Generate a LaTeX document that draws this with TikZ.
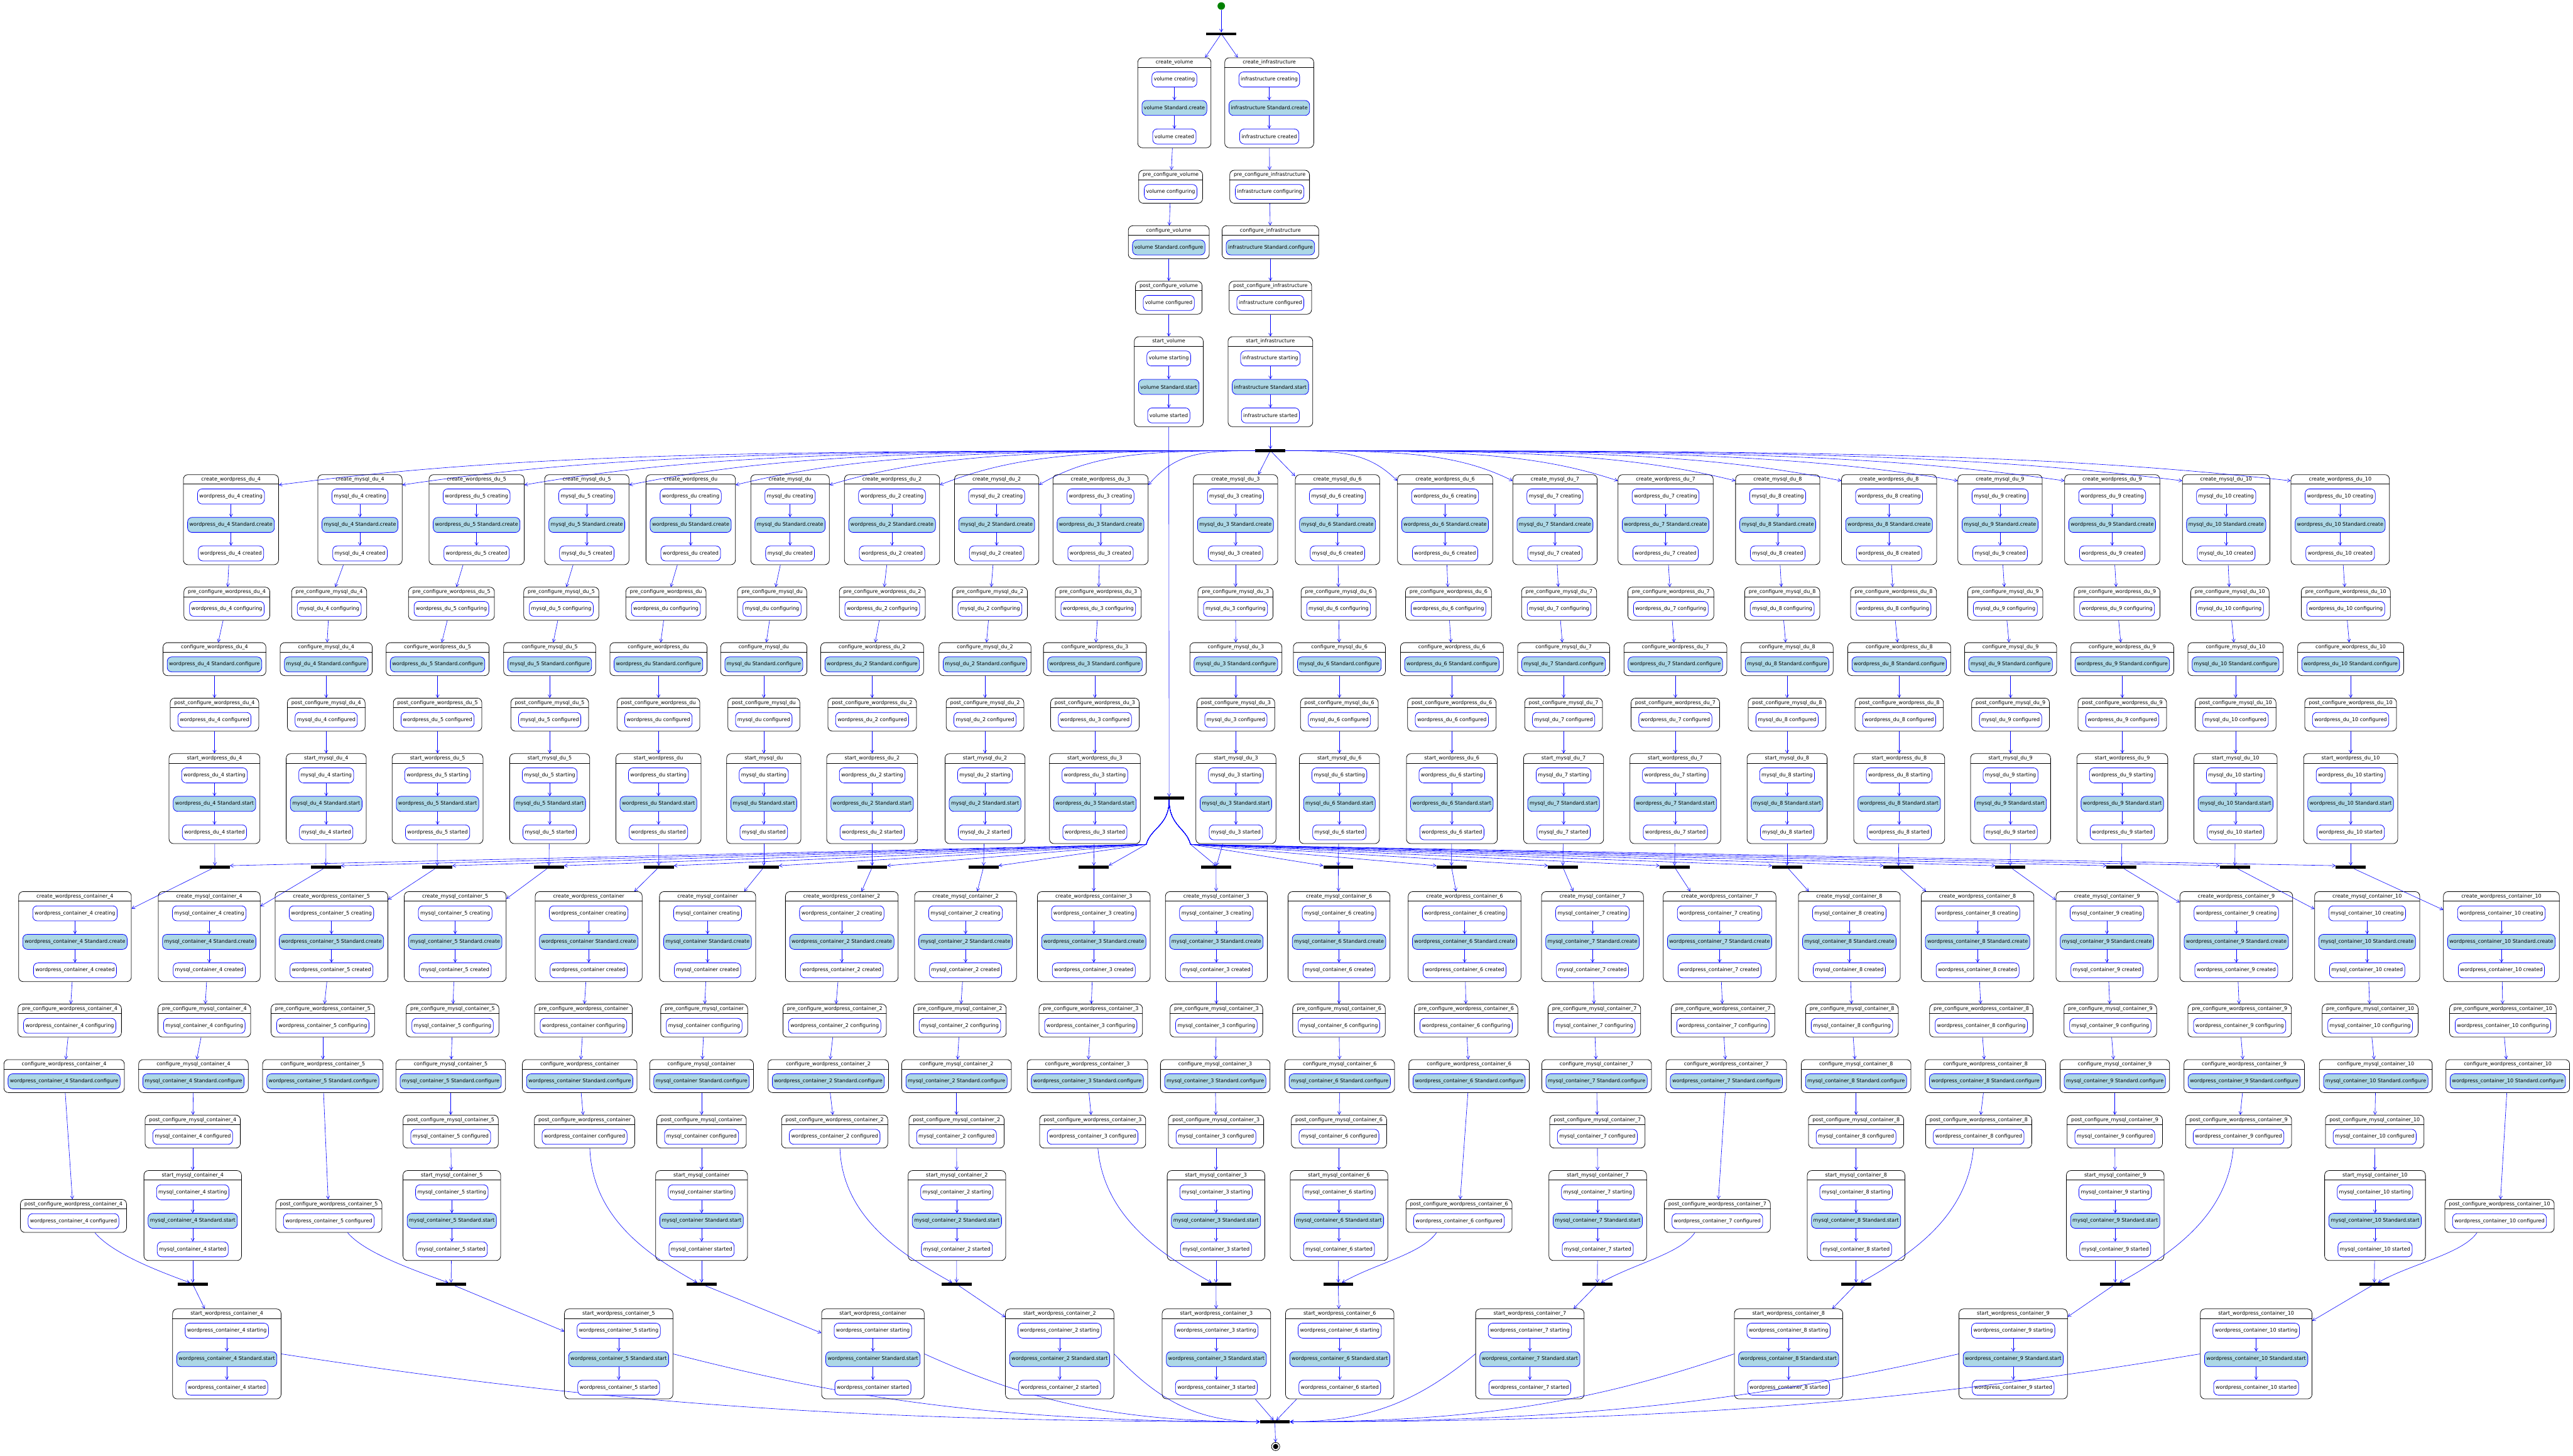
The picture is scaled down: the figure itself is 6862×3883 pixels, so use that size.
\documentclass[tikz,border=0pt]{standalone}
\usepackage{fontspec}
\setmainfont{DejaVu Sans}
\usetikzlibrary{arrows.meta,fit,calc}
\definecolor{pblue}{RGB}{0,0,255}
\definecolor{lblue}{RGB}{173,216,230}
\definecolor{pgreen}{RGB}{0,128,0}
\newcommand\myfs{\fontsize{13.5}{16}\selectfont}
\tikzset{
  ttl/.style={inner sep=0pt, font=\myfs},
  st/.style={draw=pblue, line width=1.3pt, rounded corners=12pt, fill=white, minimum height=40pt, inner xsep=5pt, inner ysep=0pt, font=\myfs},
  stf/.style={st, fill=lblue},
  clu/.style={draw=black, line width=1.3pt, rounded corners=12pt, inner xsep=10.5pt, inner ysep=0pt},
  hdr/.style={draw=black, line width=1.3pt},
  arr/.style={draw=pblue, line width=1pt, -{Straight Barb[length=8pt,width=9pt]}},
  bar/.style={fill=black, inner sep=0pt, minimum width=80pt, minimum height=8pt},
}
\newcommand\ClThree[7]{%
  \node[ttl] (#1-t) at (#2,{-(#3+13)}) {#4};
  \node[st] (#1-a) at (#2,{-(#3+58)}) {#5};
  \node[stf] (#1-b) at (#2,{-(#3+134)}) {#6};
  \node[st] (#1-c) at (#2,{-(#3+210)}) {#7};
  \coordinate (#1-u) at (#2,{-(#3)});
  \coordinate (#1-d) at (#2,{-(#3+240)});
  \node[clu, fit=(#1-u)(#1-d)(#1-t)(#1-a)(#1-b)(#1-c)] (#1) {};
  \draw[hdr] ([yshift=-26pt]#1.north west) -- ([yshift=-26pt]#1.north east);
  \draw[arr] (#1-a) -- (#1-b);
  \draw[arr] (#1-b) -- (#1-c);
}
\newcommand\ClOne[6]{%
  \node[ttl] (#1-t) at (#2,{-(#3+13)}) {#4};
  \node[#6] (#1-a) at (#2,{-(#3+58)}) {#5};
  \coordinate (#1-u) at (#2,{-(#3)});
  \coordinate (#1-d) at (#2,{-(#3+88)});
  \node[clu, fit=(#1-u)(#1-d)(#1-t)(#1-a)] (#1) {};
  \draw[hdr] ([yshift=-26pt]#1.north west) -- ([yshift=-26pt]#1.north east);
}
\begin{document}
\begin{tikzpicture}[x=1pt,y=1pt]
\fill[white] (0,0) rectangle (6862,-3883);
\useasboundingbox (0,0) rectangle (6862,-3883);
% ---------- top column ----------
\node[circle, fill=pgreen, minimum size=20pt, inner sep=0pt] (init) at (3257,-16) {};
\node[bar, minimum height=7pt] (tb) at (3257,-90) {};
\draw[arr] (init) -- (tb);
\ClThree{cv}{3132}{154}{create\_volume}{volume creating}{volume Standard.create}{volume created}
\ClThree{ci}{3385}{154}{create\_infrastructure}{infrastructure creating}{infrastructure Standard.create}{infrastructure created}
\draw[arr] (tb) -- (cv);
\draw[arr] (tb) -- (ci);
\ClOne{pv}{3122}{454}{pre\_configure\_volume}{volume configuring}{st}
\ClOne{pi}{3386}{454}{pre\_configure\_infrastructure}{infrastructure configuring}{st}
\ClOne{kv}{3117}{602}{configure\_volume}{volume Standard.configure}{stf}
\ClOne{ki}{3388}{602}{configure\_infrastructure}{infrastructure Standard.configure}{stf}
\ClOne{qv}{3117}{750}{post\_configure\_volume}{volume configured}{st}
\ClOne{qi}{3388}{750}{post\_configure\_infrastructure}{infrastructure configured}{st}
\ClThree{sv}{3117}{898}{start\_volume}{volume starting}{volume Standard.start}{volume started}
\ClThree{si}{3388}{898}{start\_infrastructure}{infrastructure starting}{infrastructure Standard.start}{infrastructure started}
\draw[arr] (cv) -- (pv);
\draw[arr] (pv) -- (kv);
\draw[arr] (kv) -- (qv);
\draw[arr] (qv) -- (sv);
\draw[arr] (ci) -- (pi);
\draw[arr] (pi) -- (ki);
\draw[arr] (ki) -- (qi);
\draw[arr] (qi) -- (si);
\node[bar] (ib) at (3388,-1202) {};
\node[bar] (vb) at (3118,-2129) {};
\coordinate (vl) at (3057,-2252);
\coordinate (vr) at (3175,-2252);
\draw[arr] (si) -- (ib);
\draw[arr] (sv) -- (vb);
% ---------- deployment units ----------
\foreach \o/\xc/\xp/\xr/\xb [count=\i] in {%
wordpress\_du\_4/616/605/572/573,%
mysql\_du\_4/960/878/870/869,%
wordpress\_du\_5/1271/1204/1167/1166,%
mysql\_du\_5/1565/1497/1466/1464,%
wordpress\_du/1842/1776/1756/1757,%
mysql\_du/2107/2059/2037/2037,%
wordpress\_du\_2/2379/2353/2326/2326,%
mysql\_du\_2/2658/2640/2627/2623,%
wordpress\_du\_3/2935/2929/2920/2917,%
mysql\_du\_3/3295/3295/3296/3243,%
mysql\_du\_6/3567/3570/3572/3569,%
wordpress\_du\_6/3854/3863/3872/3871,%
mysql\_du\_7/4147/4158/4170/4168,%
wordpress\_du\_7/4442/4456/4468/4466,%
mysql\_du\_8/4741/4753/4766/4766,%
wordpress\_du\_8/5038/5050/5065/5063,%
mysql\_du\_9/5334/5348/5362/5361,%
wordpress\_du\_9/5633/5646/5660/5658,%
mysql\_du\_10/5937/5947/5962/5960,%
wordpress\_du\_10/6241/6256/6269/6269}{%
  \ClThree{dc\i}{\xc}{1266}{create\_\o}{\o{} creating}{\o{} Standard.create}{\o{} created}
  \ClOne{dp\i}{\xp}{1566}{pre\_configure\_\o}{\o{} configuring}{st}
  \ClOne{dk\i}{\xr}{1714}{configure\_\o}{\o{} Standard.configure}{stf}
  \ClOne{dq\i}{\xr}{1862}{post\_configure\_\o}{\o{} configured}{st}
  \ClThree{ds\i}{\xr}{2010}{start\_\o}{\o{} starting}{\o{} Standard.start}{\o{} started}
  \node[bar] (db\i) at (\xb,-2313) {};
  \draw[arr] (dc\i) -- (dp\i);
  \draw[arr] (dp\i) -- (dk\i);
  \draw[arr] (dk\i) -- (dq\i);
  \draw[arr] (dq\i) -- (ds\i);
  \draw[arr] (ds\i) -- (db\i);
  \ifnum\i<10
    \pgfmathsetmacro\dx{3348-\xc-120}
    \draw[arr] (ib.west) .. controls +({-0.5*\dx},0) and +({0.25*\dx},85) .. ([yshift=-28pt]dc\i.north east);
  \else\ifnum\i>11
    \pgfmathsetmacro\dx{\xc-120-3428}
    \draw[arr] (ib.east) .. controls +({0.5*\dx},0) and +({-0.25*\dx},75) .. ([yshift=-17pt]dc\i.north west);
  \else
    \draw[arr] (ib) -- (dc\i);
  \fi\fi
  \ifnum\xb<3118
    \draw[arr] (vb.south) .. controls +(0,-70) and +(12,45) .. (vl) -- (db\i.north east);
  \else\ifnum\i=10
    \draw[arr] (vb.south) .. controls +(0,-70) and +(-12,45) .. (vr) -- (db\i.north);
  \else
    \draw[arr] (vb.south) .. controls +(0,-70) and +(-12,45) .. (vr) -- (db\i.north west);
  \fi\fi
}
% ---------- containers ----------
\foreach \o/\xc/\xp/\xk/\xq/\yq [count=\i] in {%
wordpress\_container\_4/200/186/171/196/3199,%
mysql\_container\_4/558/545/516/514/2974,%
wordpress\_container\_5/884/861/861/877/3199,%
mysql\_container\_5/1214/1207/1202/1202/2974,%
wordpress\_container/1570/1556/1546/1559/2974,%
mysql\_container/1887/1878/1871/1871/2974,%
wordpress\_container\_2/2245/2226/2209/2226/2974,%
mysql\_container\_2/2575/2560/2551/2551/2974,%
wordpress\_container\_3/2917/2909/2900/2914/2974,%
mysql\_container\_3/3244/3244/3241/3243/2974,%
mysql\_container\_6/3571/3571/3573/3571/2974,%
wordpress\_container\_6/3906/3910/3918/3891/3199,%
mysql\_container\_7/4247/4252/4258/4260/2974,%
wordpress\_container\_7/4586/4595/4604/4580/3199,%
mysql\_container\_8/4932/4939/4950/4950/2974,%
wordpress\_container\_8/5274/5284/5295/5277/2974,%
mysql\_container\_9/5619/5628/5640/5640/2974,%
wordpress\_container\_9/5964/5973/5985/5970/2974,%
mysql\_container\_10/6313/6321/6336/6333/2974,%
wordpress\_container\_10/6671/6675/6688/6666/3199}{%
  \ClThree{cc\i}{\xc}{2378}{create\_\o}{\o{} creating}{\o{} Standard.create}{\o{} created}
  \ClOne{cp\i}{\xp}{2678}{pre\_configure\_\o}{\o{} configuring}{st}
  \ClOne{ck\i}{\xk}{2826}{configure\_\o}{\o{} Standard.configure}{stf}
  \ClOne{cq\i}{\xq}{\yq}{post\_configure\_\o}{\o{} configured}{st}
  \draw[arr] (db\i) -- (cc\i);
  \draw[arr] (cc\i) -- (cp\i);
  \draw[arr] (cp\i) -- (ck\i);
  \draw[arr] (ck\i) -- (cq\i);
}
\node[bar] (fb) at (3400,-3792) {};
\node[circle, draw=black, line width=1.3pt, minimum size=22pt, inner sep=0pt] (endc) at (3402,-3858) {};
\fill[black] (endc.center) circle (7pt);
\draw[arr] (fb) -- (endc);
\foreach \m/\w/\om/\ow/\xs/\xb/\xw/\sx/\oa/\da/\ia/\db/\ex/\bd in {%
2/1/mysql\_container\_4/wordpress\_container\_4/514/514/605/57/-50/70/160/100/-8/-1,%
4/3/mysql\_container\_5/wordpress\_container\_5/1205/1203/1650/50/-50/70/160/100/-8/-1,%
6/5/mysql\_container/wordpress\_container/1871/1871/2328/14/-88/200/150/120/-12/-1,%
8/7/mysql\_container\_2/wordpress\_container\_2/2552/2551/2826/14/-88/200/150/120/-12/-1,%
10/9/mysql\_container\_3/wordpress\_container\_3/3243/3243/3244/14/-85/200/150/120/-12/0,%
11/12/mysql\_container\_6/wordpress\_container\_6/3571/3569/3573/-60/-125/70/30/100/10/0,%
13/14/mysql\_container\_7/wordpress\_container\_7/4261/4260/4080/-60/-125/70/30/100/10/1,%
15/16/mysql\_container\_8/wordpress\_container\_8/4950/4950/4770/-14/-95/200/30/120/12/1,%
17/18/mysql\_container\_9/wordpress\_container\_9/5641/5641/5369/-14/-95/200/30/120/12/1,%
19/20/mysql\_container\_10/wordpress\_container\_10/6334/6332/6017/-60/-125/70/30/100/10/1}{%
  \ClThree{cs\m}{\xs}{3122}{start\_\om}{\om{} starting}{\om{} Standard.start}{\om{} started}
  \node[bar] (jb\m) at (\xb,-3425) {};
  \draw[arr] (cq\m) -- (cs\m);
  \draw[arr] (cs\m) -- (jb\m);
  \ClThree{cw\w}{\xw}{3491}{start\_\ow}{\ow{} starting}{\ow{} Standard.start}{\ow{} started}
  \draw[arr] ([xshift=\sx pt]cq\w.south) .. controls +(\oa:\da) and +(\ia:\db) .. ([xshift=\ex pt]jb\m.north);
  \draw[arr] (jb\m) -- (cw\w);
  \ifnum\bd<0
    \pgfmathsetmacro\dx{3360-\xw-150}
    \draw[arr] (cw\w.east) .. controls +({0.3*\dx},-120) and +({-0.45*\dx},0) .. (fb.west);
  \else\ifnum\bd>0
    \pgfmathsetmacro\dx{\xw-150-3440}
    \draw[arr] (cw\w.west) .. controls +({-0.3*\dx},-120) and +({0.45*\dx},0) .. (fb.east);
  \else
    \draw[arr] (cw\w) -- (fb);
  \fi\fi
}
\end{tikzpicture}
\end{document}
